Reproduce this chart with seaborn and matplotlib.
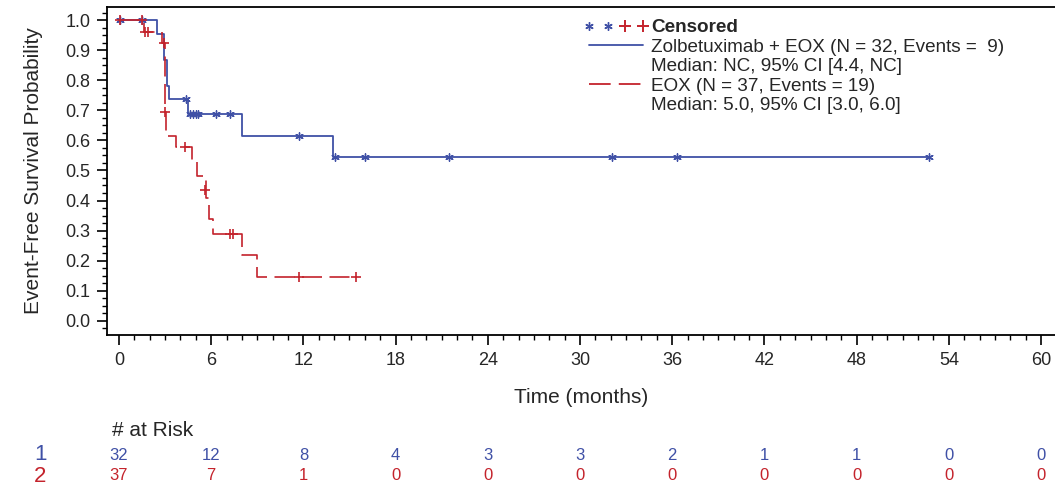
import numpy as np
import pandas as pd
import matplotlib
matplotlib.use('Agg')
import matplotlib.pyplot as plt
import matplotlib.transforms as mtransforms
import seaborn as sns
from matplotlib.lines import Line2D
from matplotlib.legend_handler import HandlerTuple
from matplotlib.ticker import MultipleLocator, AutoMinorLocator
from matplotlib import font_manager

# ============================================================================
# Data
# ============================================================================

# Zolbetuximab + EOX: event times (months) and survival after each step
zol_time = [0, 2.5, 2.93, 3.1, 3.25, 4.5, 8.0, 13.9, 52.7]
zol_surv = [1.0, 0.953, 0.868, 0.78, 0.737, 0.688, 0.616, 0.544, 0.544]
zol_cens_time = [0.07, 1.47, 4.36, 4.6, 4.8, 5.0, 5.15, 6.3, 7.2, 11.7,
                 14.05, 16.0, 21.5, 32.1, 36.3, 52.7]
zol_cens_surv = [1.0, 1.0, 0.737, 0.688, 0.688, 0.688, 0.688, 0.688, 0.688,
                 0.616, 0.544, 0.544, 0.544, 0.544, 0.544, 0.544]

# EOX
eox_time = [0, 1.6, 2.8, 3.0, 3.08, 3.69, 4.73, 5.05, 5.66, 5.88, 6.1, 7.98,
            9.0, 15.4]
eox_surv = [1.0, 0.961, 0.925, 0.693, 0.616, 0.577, 0.535, 0.483, 0.41,
            0.34, 0.29, 0.219, 0.147, 0.147]
eox_cens_time = [0.07, 1.47, 1.7, 1.9, 2.9, 3.02, 4.3, 5.62, 7.2, 7.4, 11.7,
                 15.4]
eox_cens_surv = [1.0, 1.0, 0.961, 0.961, 0.925, 0.693, 0.577, 0.436, 0.29,
                 0.29, 0.147, 0.147]

# Numbers at risk
risk_times = [0, 6, 12, 18, 24, 30, 36, 42, 48, 54, 60]
zol_at_risk = [32, 12, 8, 4, 3, 3, 2, 1, 1, 0, 0]
eox_at_risk = [37, 7, 1, 0, 0, 0, 0, 0, 0, 0, 0]

zol_label = 'Zolbetuximab + EOX (N = 32, Events =  9)'
zol_median = 'Median: NC, 95% CI [4.4, NC]'
eox_label = 'EOX (N = 37, Events = 19)'
eox_median = 'Median: 5.0, 95% CI [3.0, 6.0]'

BLUE = '#3f50a6'
RED = '#c4232c'
TXT = '#262626'

# ============================================================================
# Style
# ============================================================================
sns.set_theme(style='white')
plt.rcParams['font.family'] = ['Liberation Sans', 'DejaVu Sans']
plt.rcParams['text.color'] = TXT

installed = {f.name for f in font_manager.fontManager.ttflist}
narrow = 'Liberation Sans Narrow' if 'Liberation Sans Narrow' in installed else 'Liberation Sans'

fig = plt.figure(figsize=(10.55, 4.87), dpi=100)
ax = fig.add_axes([107 / 1055, 152 / 487, 948 / 1055, 328 / 487])

df_zol = pd.DataFrame({'time': zol_time, 'surv': zol_surv})
df_eox = pd.DataFrame({'time': eox_time, 'surv': eox_surv})

sns.lineplot(data=df_zol, x='time', y='surv', estimator=None,
             drawstyle='steps-post', color=BLUE, linewidth=1.3, ax=ax)
sns.lineplot(data=df_eox, x='time', y='surv', estimator=None,
             drawstyle='steps-post', color=RED, linewidth=1.2,
             linestyle=(0, (12, 4.5)), ax=ax)

sns.scatterplot(x=zol_cens_time, y=zol_cens_surv, marker=(6, 2, 0),
                color=BLUE, s=28, linewidth=1.0, ax=ax, zorder=4)
sns.scatterplot(x=eox_cens_time, y=eox_cens_surv, marker='+',
                color=RED, s=60, linewidth=1.2, ax=ax, zorder=4)

# Axes
ax.set_xlim(-0.78, 60.91)
ax.set_ylim(-0.0476, 1.044)
ax.xaxis.set_major_locator(MultipleLocator(6))
ax.xaxis.set_minor_locator(MultipleLocator(1))
ax.yaxis.set_major_locator(MultipleLocator(0.1))
ax.yaxis.set_minor_locator(AutoMinorLocator(4))
ax.yaxis.set_major_formatter(matplotlib.ticker.FormatStrFormatter('%.1f'))

ax.tick_params(which='major', direction='out', length=7, width=1.2,
               color='black', labelsize=13, labelcolor=TXT,
               bottom=True, left=True, pad=5)
ax.tick_params(which='minor', direction='out', length=3.6, width=1.0,
               color='black', bottom=True, left=True)

for side in ['left', 'bottom', 'top']:
    ax.spines[side].set_color('black')
    ax.spines[side].set_linewidth(1.3)
ax.spines['right'].set_visible(False)

ax.set_xlabel('Time (months)', fontsize=15, labelpad=14, color=TXT)
ax.set_ylabel('Event-Free Survival Probability', fontsize=15, labelpad=16,
              color=TXT)

# Legend
cens_handle = (Line2D([], [], marker=(6, 2, 0), color=BLUE, linestyle='none',
                      markersize=6, markeredgewidth=1.0),
               Line2D([], [], marker='+', color=RED, linestyle='none',
                      markersize=9, markeredgewidth=1.4))
blank = Line2D([], [], color='none')
handles = [cens_handle,
           Line2D([], [], color=BLUE, linewidth=1.3), blank,
           Line2D([], [], color=RED, linewidth=1.3, linestyle=(0, (12, 4.5))),
           blank]
labels = ['Censored', zol_label, zol_median, eox_label, eox_median]
leg = ax.legend(handles, labels, loc='upper left',
                bbox_to_anchor=(583 / 1055, 1 - 19 / 487),
                bbox_transform=fig.transFigure, frameon=False, fontsize=13.6,
                handlelength=3.5, handletextpad=0.1, labelspacing=0.12,
                borderpad=0, borderaxespad=0, numpoints=2,
                handler_map={tuple: HandlerTuple(ndivide=None, pad=0.3)})
leg.get_texts()[0].set_fontweight('bold')
for t in leg.get_texts():
    t.set_color(TXT)

# Numbers at risk table
trans = mtransforms.blended_transform_factory(ax.transData, fig.transFigure)
fig.text(112 / 1055, 1 - 431 / 487, '# at Risk', fontsize=15, va='center',
         ha='left', color=TXT)
fig.text(40 / 1055, 1 - 455 / 487, '1', fontsize=16, va='center',
         ha='center', color=BLUE, family=narrow)
fig.text(40 / 1055, 1 - 476 / 487, '2', fontsize=16, va='center',
         ha='center', color=RED, family=narrow)
for t, n1, n2 in zip(risk_times, zol_at_risk, eox_at_risk):
    ax.text(t, 1 - 455 / 487, str(n1), transform=trans, ha='center',
            va='center', fontsize=12, color=BLUE, family=narrow)
    ax.text(t, 1 - 476 / 487, str(n2), transform=trans, ha='center',
            va='center', fontsize=12, color=RED, family=narrow)

plt.savefig('out.png', dpi=100, facecolor='white')
